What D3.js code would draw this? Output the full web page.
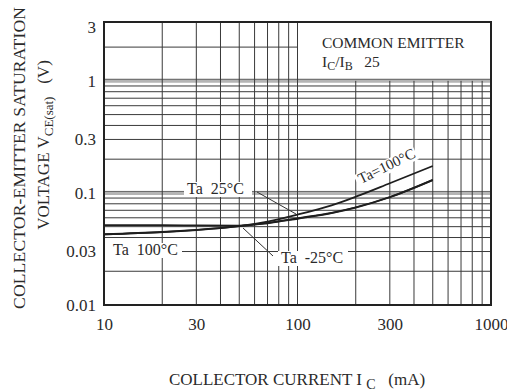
<!DOCTYPE html>
<html><head><meta charset="utf-8">
<script src="https://cdn.jsdelivr.net/npm/d3@7/dist/d3.min.js"></script>
<style>
body{margin:0;background:#fff}
svg{display:block}
text{font-family:"Liberation Serif","Times New Roman",serif;fill:#2a2a2a;white-space:pre}
</style>
</head><body><svg id="c" width="507" height="392"></svg>
<script>
// ---- data ----
const xTickValues=[10,30,100,300,1000];
const xTickLabels=["10","30","100","300","1000"];
const yTickValues=[3,1,0.3,0.1,0.03,0.01];
const yTickLabels=["3","1","0.3","0.1","0.03","0.01"];
const current=[10,20,30,50,70,100,150,200,300,500];          // I_C (mA)
const vceTa100=[0.0426,0.0446,0.0466,0.0505,0.0555,0.064,0.0775,0.0925,0.122,0.174];
const vceTa25=[0.0428,0.0448,0.0468,0.0505,0.054,0.0594,0.0665,0.0745,0.092,0.131];
const vceTaM25=[0.0515,0.0515,0.0513,0.0511,0.0536,0.0588,0.066,0.074,0.0915,0.130];

const svg=d3.select("#c");
const L=104,R=491,T=22,B=305;
const x=d3.scaleLog().domain([10,1000]).range([L,R]);
const y=d3.scaleLog().domain([0.01,3.35]).range([B,T]);

// grid values (log minor ticks)
const yGrid=[];
[0.01,0.1,1].forEach(d=>{for(let k=1;k<10;k++){const v=+(k*d).toPrecision(3);if(v<=2&&v>0.01)yGrid.push(v);}});
const xGrid=[];
[10,100].forEach(d=>{for(let k=1;k<10;k++){const v=k*d;if(v>10)xGrid.push(v);}});

const grid=svg.append("g");
grid.selectAll("line.h").data(yGrid).join("line")
  .attr("x1",L).attr("x2",d=>d>1?x(100):R)
  .attr("y1",d=>y(d)).attr("y2",d=>y(d))
  .attr("stroke",d=>(d===1||d===0.1)?"#b5b5b5":"#3a3a3a")
  .attr("stroke-width",d=>(d===1||d===0.1)?4:1);
grid.selectAll("line.hm").data(yGrid.filter(d=>d===1||d===0.1)).join("line")
  .attr("x1",L).attr("x2",R)
  .attr("y1",d=>y(d)-1.5).attr("y2",d=>y(d)-1.5)
  .attr("stroke","#555").attr("stroke-width",0.8);
grid.selectAll("line.v").data(xGrid).join("line")
  .attr("x1",d=>x(d)).attr("x2",d=>x(d))
  .attr("y1",d=>d>100?y(1):T).attr("y2",B)
  .attr("stroke","#3a3a3a").attr("stroke-width",1);

svg.append("rect").attr("x",L).attr("y",T).attr("width",R-L).attr("height",B-T)
  .attr("fill","none").attr("stroke","#222").attr("stroke-width",2);

const yAxis=d3.axisLeft(y).tickValues(yTickValues).tickFormat((d,i)=>yTickLabels[i]).tickSize(0).tickPadding(8);
const gy=svg.append("g").attr("transform",`translate(${L},0)`).call(yAxis);
const xAxis=d3.axisBottom(x).tickValues(xTickValues).tickFormat((d,i)=>xTickLabels[i]).tickSize(0).tickPadding(13);
const gx=svg.append("g").attr("transform",`translate(0,${B})`).call(xAxis);
[gx,gy].forEach(g=>{g.select(".domain").remove();
  g.selectAll("text").attr("font-family","Liberation Serif").attr("font-size",17).attr("fill","#2a2a2a");});

function label(txt,xx,yy,w,h,size,rot,pad){
  const g=svg.append("g").attr("transform",`translate(${xx},${yy})`+(rot?` rotate(${rot})`:""));
  g.append("rect").attr("x",-(pad||3)).attr("y",-h+3).attr("width",w+(pad||3)-3).attr("height",h).attr("fill","#fff");
  g.append("text").attr("font-size",size).text(txt);
  return g;
}

const line=d3.line().x(d=>x(d[0])).y(d=>y(d[1])).curve(d3.curveMonotoneX);
const series=[vceTa100,vceTa25,vceTaM25];
svg.append("g").selectAll("path").data(series).join("path")
  .attr("d",s=>line(current.map((c,i)=>[c,s[i]])))
  .attr("fill","none").attr("stroke","#1e1e1e").attr("stroke-width",1.8);

label("Ta  25°C",187,194,68,15,16);
label("Ta  100°C",113,255,72,15,16,0,8);
label("Ta  -25°C",281,263,70,15,16);
label("Ta=100°C",361,184,66,14,15,-26);

svg.append("line").attr("x1",257).attr("y1",192).attr("x2",296).attr("y2",214).attr("stroke","#333").attr("stroke-width",1);
svg.append("line").attr("x1",273).attr("y1",256).attr("x2",243).attr("y2",228).attr("stroke","#333").attr("stroke-width",1);

svg.append("text").attr("x",322).attr("y",48).attr("font-size",15.5).text("COMMON EMITTER");
const ct=svg.append("text").attr("x",322).attr("y",67).attr("font-size",15.5);
ct.append("tspan").text("I");
ct.append("tspan").attr("dy",3).attr("font-size",12).text("C");
ct.append("tspan").attr("dy",-3).text("/I");
ct.append("tspan").attr("dy",3).attr("font-size",12).text("B");
ct.append("tspan").attr("dy",-3).text("   25");

svg.append("text").attr("transform","translate(25,158) rotate(-90)")
  .attr("text-anchor","middle").attr("font-size",17.5)
  .attr("textLength",302).attr("lengthAdjust","spacing").text("COLLECTOR-EMITTER SATURATION");
const yt=svg.append("text").attr("transform","translate(49,145) rotate(-90)")
  .attr("text-anchor","middle").attr("font-size",17);
yt.append("tspan").text("VOLTAGE V");
yt.append("tspan").attr("dy",4).attr("font-size",13).text("CE(sat)");
yt.append("tspan").attr("dy",-4).text("   (V)");

const xt=svg.append("text").attr("x",297).attr("y",385).attr("text-anchor","middle").attr("font-size",17);
xt.append("tspan").text("COLLECTOR CURRENT I ");
xt.append("tspan").attr("dy",4).attr("font-size",14).text("C");
xt.append("tspan").attr("dy",-4).text("   (mA)");
</script>
</body></html>
